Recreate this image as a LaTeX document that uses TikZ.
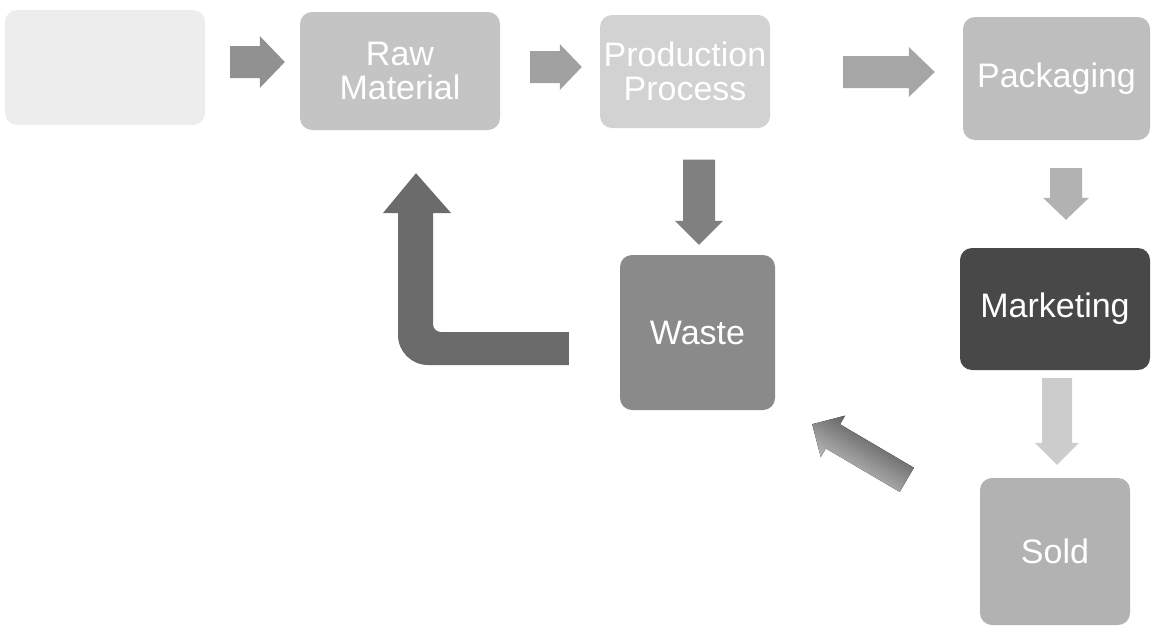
\documentclass[tikz,border=0pt]{standalone}
\usepackage{fontspec}
\setmainfont{Liberation Sans}
\usetikzlibrary{calc}
\definecolor{srcC}{HTML}{EDEDED}
\definecolor{rawC}{HTML}{C4C4C4}
\definecolor{prodC}{HTML}{D2D2D2}
\definecolor{packC}{HTML}{BEBEBE}
\definecolor{markC}{HTML}{484848}
\definecolor{wasteC}{HTML}{8A8A8A}
\definecolor{soldC}{HTML}{B2B2B2}
\newcommand\blockarr[6]{%
  \path ($(#2)!#5!(#1)$) coordinate (hb);
  \fill[#6] ($(#1)!#3!-90:(#2)$) -- ($(hb)!#3!90:(#1)$) -- ($(hb)!#4!90:(#1)$) -- (#2)
    -- ($(hb)!#4!-90:(#1)$) -- ($(hb)!#3!-90:(#1)$) -- ($(#1)!#3!90:(#2)$) -- cycle;}
\begin{document}
\begin{tikzpicture}[x=1pt,y=1pt,
  boxstyle/.style={rounded corners=12pt, inner sep=0pt, align=center, text=white,
    font=\fontsize{34}{34}\selectfont}]
\useasboundingbox (0,0) rectangle (1156,-632);
% boxes
\node[boxstyle, fill=srcC, minimum width=200pt, minimum height=115pt] (src) at (105,-67.5) {};
\node[boxstyle, fill=rawC, minimum width=200pt, minimum height=118pt] (raw) at (400,-71) {Raw\\Material};
\node[boxstyle, fill=prodC, minimum width=170pt, minimum height=113pt] (prod) at (685,-71.5) {Production\\Process};
\node[boxstyle, fill=packC, minimum width=187pt, minimum height=123pt] (pack) at (1056.5,-78.5) {Packaging};
\node[boxstyle, fill=markC, minimum width=190pt, minimum height=122pt] (mark) at (1055,-309) {Marketing};
\node[boxstyle, fill=wasteC, minimum width=155pt, minimum height=155pt] (waste) at (697.5,-332.5) {Waste};
\node[boxstyle, fill=soldC, minimum width=150pt, minimum height=147pt] (sold) at (1055,-551.5) {Sold};
% arrow end points
\coordinate (a1s) at ($(src.east)+(25,5.5)$);
\coordinate (a1e) at ($(raw.west)+(-15,9)$);
\coordinate (a2s) at ($(raw.east)+(30,4)$);
\coordinate (a2e) at ($(prod.west)+(-18,4.5)$);
\coordinate (a3s) at ($(prod.east)+(73,-0.5)$);
\coordinate (a3e) at ($(pack.west)+(-28,6.5)$);
\coordinate (a4s) at ($(pack.south)+(9.5,-28)$);
\coordinate (a4e) at ($(mark.north)+(11,28)$);
\coordinate (a5s) at ($(mark.south)+(2,-8)$);
\coordinate (a5e) at ($(sold.north)+(2,13)$);
\coordinate (a6s) at ($(prod.south)+(14,-31.5)$);
\coordinate (a6e) at ($(waste.north)+(1.5,10)$);
\coordinate (dgs) at ($(sold.north west)+(-73,-2)$);
\coordinate (dge) at ($(waste.south east)+(37,-14)$);
% straight block arrows
\blockarr{a1s}{a1e}{16pt}{26pt}{25pt}{fill=black!43}
\blockarr{a2s}{a2e}{16pt}{23pt}{22pt}{fill=black!37}
\blockarr{a3s}{a3e}{16pt}{25pt}{26pt}{fill=black!35}
\blockarr{a4s}{a4e}{16pt}{23pt}{22pt}{fill=black!30}
\blockarr{a5s}{a5e}{15pt}{22pt}{22pt}{fill=black!20}
\blockarr{a6s}{a6e}{16pt}{24pt}{24pt}{fill=black!50}
\blockarr{dgs}{dge}{14pt}{24pt}{24pt}{left color=black!75, right color=black!15, shading angle=-31}
% L-shaped return arrow (waste -> raw material)
\coordinate (lst) at ($(waste.west)+(-51,0.5)$);
\coordinate (ltip) at ($(raw.south)+(16,-43)$);
\fill[black!58] (lst) -- ++(0,-33) -- (428,-365) arc[start angle=270, end angle=180, radius=30]
  -- (398,-213) -- (383,-213) -- (ltip) -- (451,-213) -- (433,-213) -- (433,-324)
  arc[start angle=180, end angle=270, radius=8] -- cycle;
\end{tikzpicture}
\end{document}
